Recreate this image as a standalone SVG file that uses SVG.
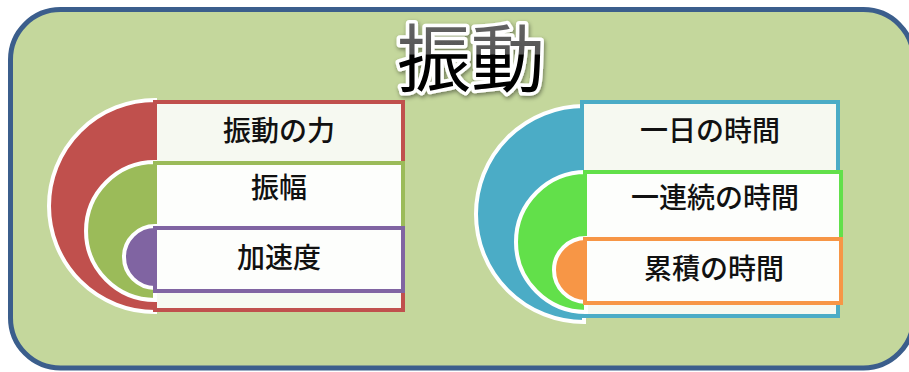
<svg xmlns="http://www.w3.org/2000/svg" width="909" height="372" viewBox="0 0 909 372">
  <defs>
    <linearGradient id="titleFill" x1="0" y1="0" x2="0" y2="1">
      <stop offset="0" stop-color="#6e6e6e"/>
      <stop offset="0.5" stop-color="#555"/>
      <stop offset="0.52" stop-color="#000"/>
      <stop offset="1" stop-color="#000"/>
    </linearGradient>
    <filter id="glow" x="-20%" y="-20%" width="140%" height="140%">
      <feDropShadow dx="1" dy="2" stdDeviation="2" flood-color="#000" flood-opacity="0.45"/>
    </filter>
  </defs>
  <style>
    .frame { fill: #c4d79c; stroke: #3b5e8c; stroke-width: 5; }
    .title { font-family: "Noto Sans CJK JP", "Noto Sans CJK SC", sans-serif; font-size: 74px; font-weight: 400; fill: url(#titleFill); stroke: #fff; stroke-width: 7; paint-order: stroke; stroke-linejoin: round; text-anchor: middle; }
    .arc { stroke: #fff; stroke-width: 4; }
    .box { stroke-width: 4; }
    .lbl { font-family: "Noto Sans CJK JP", "Noto Sans CJK SC", sans-serif; font-size: 28px; font-weight: 500; fill: #111; text-anchor: middle; }
  </style>

  <rect class="frame" x="10.5" y="9.5" width="903" height="358.5" rx="50" ry="50"/>
  <text class="title" x="471" y="86" filter="url(#glow)">振動</text>

  <g id="left">
    <g id="n-force">
      <path class="arc" d="M155,100 A106,106 0 0 0 155,312 Z" fill="#c0504d"/>
      <rect class="box" x="155" y="102" width="248" height="208" fill="#f6f9f1" stroke="#c0504d"/>
      <text class="lbl" x="279" y="141">振動の力</text>
    </g>
    <g id="n-amplitude">
      <path class="arc" d="M155,162 A69,69 0 0 0 155,300 Z" fill="#9bbb59"/>
      <rect class="box" x="155" y="163" width="248" height="128" fill="#fdfefc" stroke="#9bbb59"/>
      <text class="lbl" x="279" y="198">振幅</text>
    </g>
    <g id="n-accel">
      <path class="arc" d="M155,226 A31,31 0 0 0 155,288 Z" fill="#8064a2"/>
      <rect class="box" x="155" y="228" width="248" height="63" fill="#fdfefc" stroke="#8064a2"/>
      <text class="lbl" x="279" y="268">加速度</text>
    </g>
  </g>

  <g id="right">
    <g id="n-day">
      <path class="arc" d="M584,106 A108,108 0 0 0 584,322 Z" fill="#4bacc6"/>
      <rect class="box" x="582" y="102" width="256" height="214" fill="#f6f9f1" stroke="#4bacc6"/>
      <text class="lbl" x="710" y="141">一日の時間</text>
    </g>
    <g id="n-continuous">
      <path class="arc" d="M586,172 A70,70 0 0 0 586,312 Z" fill="#62e04a"/>
      <rect class="box" x="585" y="172" width="256" height="131" fill="#fdfefc" stroke="#62e04a"/>
      <text class="lbl" x="715" y="208">一連続の時間</text>
    </g>
    <g id="n-cumulative">
      <path class="arc" d="M586,238 A32,32 0 0 0 586,302 Z" fill="#f79646"/>
      <rect class="box" x="585" y="239" width="256" height="64" fill="#fdfefc" stroke="#f79646"/>
      <text class="lbl" x="714" y="279">累積の時間</text>
    </g>
  </g>

  <g id="connectors"/>
</svg>
